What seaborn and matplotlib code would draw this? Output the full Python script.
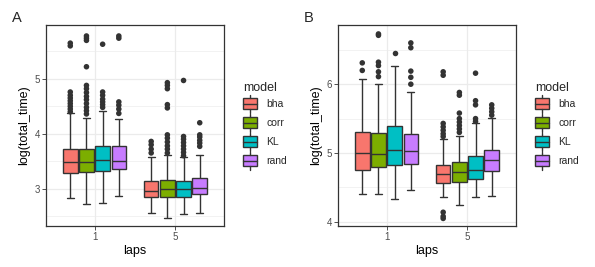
import numpy as np
import pandas as pd
import matplotlib
matplotlib.use("Agg")
import matplotlib.pyplot as plt
import seaborn as sns
from matplotlib.legend_handler import HandlerBase
from matplotlib.patches import Rectangle, Patch
from matplotlib.lines import Line2D
from matplotlib.ticker import MultipleLocator

# ---------------- data ----------------
models = ["bha", "corr", "KL", "rand"]
laps = ["1", "5"]
colors = ["#F8766D", "#7CAE00", "#00BFC4", "#C77CFF"]

# Panel A : rows = laps (1, 5), columns = models (bha, corr, KL, rand)
A_wlo = [[2.83, 2.72, 2.74, 2.87], [2.55, 2.47, 2.54, 2.56]]
A_q1 = [[3.28, 3.30, 3.32, 3.35], [2.84, 2.84, 2.85, 2.90]]
A_med = [[3.48, 3.48, 3.53, 3.50], [2.95, 2.99, 2.99, 3.02]]
A_q3 = [[3.72, 3.72, 3.77, 3.77], [3.14, 3.16, 3.14, 3.19]]
A_whi = [[4.37, 4.28, 4.42, 4.26], [3.58, 3.61, 3.57, 3.61]]
A_out = [
    [[4.40, 4.45, 4.50, 4.55, 4.60, 4.65, 4.70, 4.76, 5.60, 5.65],
     [4.36, 4.42, 4.48, 4.55, 4.62, 4.68, 4.75, 4.82, 4.88, 5.22, 5.70, 5.74, 5.78],
     [4.48, 4.53, 4.58, 4.63, 4.70, 4.76, 5.63],
     [4.37, 4.45, 4.52, 4.58, 5.74, 5.78]],
    [[3.65, 3.72, 3.80, 3.86],
     [3.65, 3.72, 3.78, 3.85, 3.92, 3.98, 4.47, 4.53, 4.82, 4.88, 4.93],
     [3.60, 3.66, 3.72, 3.78, 3.84, 3.90, 3.95, 4.97],
     [3.77, 3.83, 3.88, 3.94, 3.98, 4.20]],
]

# Panel B
B_wlo = [[4.41, 4.41, 4.33, 4.47], [4.36, 4.24, 4.36, 4.38]]
B_q1 = [[4.76, 4.79, 4.82, 4.84], [4.57, 4.58, 4.62, 4.74]]
B_med = [[5.00, 4.99, 5.05, 5.03], [4.70, 4.72, 4.75, 4.90]]
B_q3 = [[5.31, 5.29, 5.40, 5.27], [4.83, 4.87, 4.95, 5.05]]
B_whi = [[6.08, 6.00, 6.26, 5.89], [5.20, 5.25, 5.44, 5.51]]
B_out = [
    [[6.20, 6.31],
     [6.11, 6.18, 6.27, 6.32, 6.71, 6.73],
     [6.45],
     [6.00, 6.10, 6.19, 6.53, 6.60]],
    [[4.05, 4.08, 4.14, 5.24, 5.28, 5.33, 5.38, 5.43, 6.13, 6.18],
     [5.30, 5.35, 5.40, 5.45, 5.50, 5.58, 5.84, 5.88],
     [5.46, 5.50, 5.70, 5.76, 6.16],
     [5.55, 5.60, 5.65, 5.70]],
]

ylabel = "log(total_time)"
xlabel = "laps"


def build(wlo, q1, med, q3, whi, out):
    box_rows, out_rows = [], []
    for i, lap in enumerate(laps):
        for j, m in enumerate(models):
            for v in (wlo[i][j], q1[i][j], med[i][j], q3[i][j], whi[i][j]):
                box_rows.append((lap, m, v))
            for v in out[i][j]:
                out_rows.append((lap, m, v))
    cols = ["laps", "model", "value"]
    return pd.DataFrame(box_rows, columns=cols), pd.DataFrame(out_rows, columns=cols)


# ---------------- style ----------------
sns.set_theme(style="white")
plt.rcParams["font.family"] = ["Liberation Sans", "DejaVu Sans"]

DARK = "#333333"
GRID = "#EBEBEB"
palette = dict(zip(models, colors))


class BoxKey(HandlerBase):
    def create_artists(self, legend, orig, xd, yd, w, h, fs, trans):
        fc = orig.get_facecolor()
        x0, y0 = -xd, -yd
        bx0, bw = x0, w
        by0, bh = y0 + 0.2 * h, 0.6 * h
        xm = x0 + w / 2
        r = Rectangle((bx0, by0), bw, bh, facecolor=fc, edgecolor=DARK, lw=1.0, transform=trans)
        l1 = Line2D([bx0, bx0 + bw], [y0 + h / 2] * 2, color=DARK, lw=1.0, transform=trans)
        l2 = Line2D([xm, xm], [y0, by0], color=DARK, lw=1.0, transform=trans)
        l3 = Line2D([xm, xm], [by0 + bh, y0 + h], color=DARK, lw=1.0, transform=trans)
        return [r, l1, l2, l3]


W, H = 595, 267
fig = plt.figure(figsize=(W / 100, H / 100), dpi=100)
fig.patch.set_facecolor("white")

panels = [
    ("A", (A_wlo, A_q1, A_med, A_q3, A_whi, A_out), 46, (2.32, 5.98), [3, 4, 5], 12, 243),
    ("B", (B_wlo, B_q1, B_med, B_q3, B_whi, B_out), 338, (3.94, 6.86), [4, 5, 6], 304, 535),
]

for tag, stats, left, ylim, yt, tagx, legx in panels:
    box_df, out_df = build(*stats)
    ax = fig.add_axes([left / W, (H - 226) / H, 178 / W, 201 / H])
    ax.set_facecolor("white")
    ax.set_axisbelow(True)

    sns.boxplot(data=box_df, x="laps", y="value", hue="model", order=laps,
                hue_order=models, palette=palette, whis=(0, 100), width=0.8,
                gap=0.1, linecolor=DARK, linewidth=1.0, saturation=1,
                showfliers=False, legend=False, ax=ax)
    sns.stripplot(data=out_df, x="laps", y="value", hue="model", order=laps,
                  hue_order=models, palette=[DARK] * 4, dodge=True, jitter=False,
                  size=4, linewidth=0, legend=False, ax=ax, zorder=5)

    ax.set_xlim(-0.6, 1.6)
    ax.set_ylim(*ylim)
    ax.set_yticks(yt)
    ax.yaxis.set_minor_locator(MultipleLocator(0.5))
    ax.grid(True, which="major", color=GRID, lw=0.9)
    ax.grid(True, which="minor", axis="y", color=GRID, lw=0.45)
    for s in ax.spines.values():
        s.set_color(DARK)
        s.set_linewidth(0.9)
    ax.tick_params(axis="both", which="major", length=3, width=0.6, color=DARK,
                   labelcolor="#4D4D4D", labelsize=7, pad=1.5, left=True, bottom=True)
    ax.tick_params(axis="both", which="minor", length=0)
    ax.set_xlabel(xlabel, fontsize=9, color="black", labelpad=2)
    ax.set_ylabel(ylabel, fontsize=9, color="black", labelpad=3)

    fig.text(tagx / W, 1 - 18 / H, tag, fontsize=10.5, va="center", ha="left")

    handles = [Patch(facecolor=palette[m]) for m in models]
    leg = fig.legend(handles, models, loc="upper left",
                     bbox_to_anchor=(legx / W, 1 - 82 / H), frameon=False,
                     title="model", fontsize=7.5, title_fontsize=9,
                     handlelength=1.38, handleheight=2.29, labelspacing=0.08,
                     handletextpad=0.87, borderpad=0, borderaxespad=0,
                     handler_map={Patch: BoxKey()})
    leg._legend_box.align = "left"

fig.savefig("out.png", dpi=100, facecolor="white")
